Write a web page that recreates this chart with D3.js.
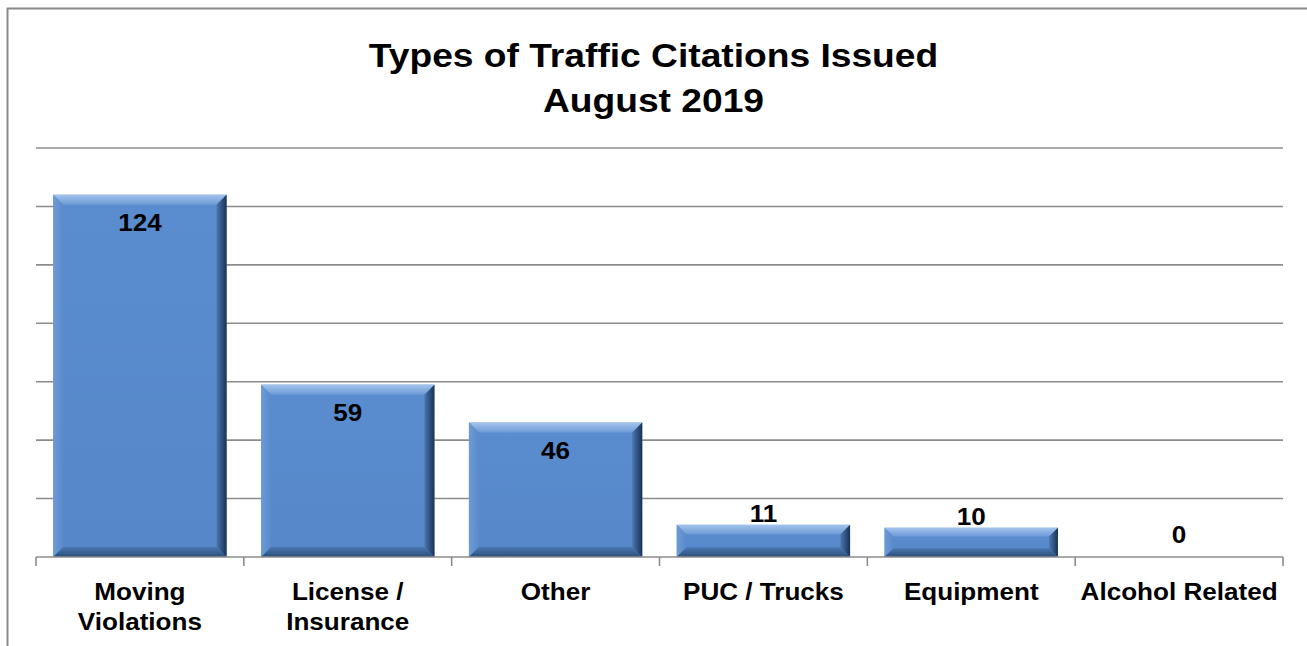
<!DOCTYPE html>
<html>
<head>
<meta charset="utf-8">
<script src="https://cdn.jsdelivr.net/npm/d3@7"></script>
<style>
  body { margin: 0; background: #fff; }
  text { font-family: Arial, "Liberation Sans", sans-serif; font-weight: bold; fill: #000; }
</style>
</head>
<body>
<div id="chart"></div>
<script>
var categories = ["Moving Violations", "License / Insurance", "Other", "PUC / Trucks", "Equipment", "Alcohol Related"];
var values = [124, 59, 46, 11, 10, 0];
var yTicks = [0, 20, 40, 60, 80, 100, 120, 140];
var titleLines = ["Types of Traffic Citations Issued", "August 2019"];

var W = 1307, H = 646;
var margin = {top: 148, right: 24, bottom: 89, left: 36};
var width = W - margin.left - margin.right,
    height = H - margin.top - margin.bottom;
var stretch = 1.11; // the source text is a little wider than Arial

function widen(sel, cx) {
    sel.attr("transform", function(d, i) {
        var c = typeof cx === "function" ? cx(d, i) : cx;
        return "translate(" + c + ",0) scale(" + stretch + ",1) translate(" + (-c) + ",0)";
    });
}

var svg = d3.select("#chart").append("svg")
    .attr("width", W).attr("height", H);

// outer chart frame (runs off the right and bottom edge)
svg.append("rect")
    .attr("x", 7.5).attr("y", 8.5)
    .attr("width", W + 10).attr("height", H + 10)
    .attr("fill", "none").attr("stroke", "#8a8a8a").attr("stroke-width", 2);

svg.selectAll(".title").data(titleLines).enter().append("text")
    .attr("class", "title")
    .attr("x", W / 2)
    .attr("y", function(d, i) { return 67 + i * 45; })
    .attr("text-anchor", "middle")
    .style("font-size", "33.5px")
    .text(function(d) { return d; })
    .call(widen, W / 2);

var g = svg.append("g")
    .attr("transform", "translate(" + margin.left + "," + margin.top + ")");

var x = d3.scaleBand()
    .domain(categories)
    .range([0, width])
    .paddingInner(0.166)
    .paddingOuter(0.083);

var y = d3.scaleLinear()
    .domain([0, 140])
    .range([height, 0]);

// gridlines
g.selectAll(".grid").data(yTicks.slice(1)).enter().append("line")
    .attr("x1", 0).attr("x2", width)
    .attr("y1", function(d) { return y(d); })
    .attr("y2", function(d) { return y(d); })
    .attr("stroke", "#8c8c8c").attr("stroke-width", 1.6);

// gradients for the bevel look
var defs = svg.append("defs");
function grad(id, x2, y2, stops) {
    var lg = defs.append("linearGradient").attr("id", id)
        .attr("x1", 0).attr("y1", 0).attr("x2", x2).attr("y2", y2);
    stops.forEach(function(s) {
        lg.append("stop").attr("offset", s[0]).attr("stop-color", s[1]);
    });
}
grad("gTop", 0, 1, [[0, "#a3c3ec"], [1, "#6d9ad6"]]);
grad("gLeft", 1, 0, [[0, "#6e9bd6"], [1, "#5a8acb"]]);
grad("gRight", 1, 0, [[0, "#4a76b0"], [1, "#1a3252"]]);
grad("gBottom", 0, 1, [[0, "#4a78b3"], [1, "#2c4d78"]]);
grad("gFace", 0, 1, [[0, "#5a8dcf"], [1, "#5587c9"]]);

var bars = g.selectAll(".bar").data(values.map(function(v, i) {
        return {cat: categories[i], v: v};
    }).filter(function(d) { return d.v > 0; }))
    .enter().append("g").attr("class", "bar");

bars.each(function(d) {
    var b = d3.select(this);
    var x0 = x(d.cat), x1 = x0 + x.bandwidth();
    var y0 = y(d.v), y1 = y(0);
    var bv = Math.min(10, (y1 - y0) * 0.3);
    function poly(pts, fill) {
        b.append("polygon")
            .attr("points", pts.map(function(p) { return p.join(","); }).join(" "))
            .attr("fill", fill);
    }
    b.append("rect")
        .attr("x", x0).attr("y", y0)
        .attr("width", x1 - x0).attr("height", y1 - y0)
        .attr("fill", "url(#gFace)");
    poly([[x0, y0], [x1, y0], [x1 - bv, y0 + bv], [x0 + bv, y0 + bv]], "url(#gTop)");
    poly([[x0, y0], [x0 + bv, y0 + bv], [x0 + bv, y1 - bv], [x0, y1]], "url(#gLeft)");
    poly([[x1, y0], [x1, y1], [x1 - bv, y1 - bv], [x1 - bv, y0 + bv]], "url(#gRight)");
    poly([[x0, y1], [x0 + bv, y1 - bv], [x1 - bv, y1 - bv], [x1, y1]], "url(#gBottom)");
});

// value labels
var cx = function(d, i) { return x(categories[i]) + x.bandwidth() / 2; };
g.selectAll(".val").data(values).enter().append("text")
    .attr("class", "val")
    .attr("x", cx)
    .attr("y", function(d) {
        var h = y(0) - y(d);
        return h > 50 ? y(d) + 28 : Math.min(y(d) - 11, y(0) - 22);
    })
    .attr("dy", "0.35em")
    .attr("text-anchor", "middle")
    .style("font-size", "23.5px")
    .text(function(d) { return d; })
    .call(widen, cx);

// baseline axis with boundary ticks
var xAxis = g.append("g").attr("transform", "translate(0," + height + ")");
xAxis.append("line")
    .attr("x1", 0).attr("x2", width)
    .attr("stroke", "#8c8c8c").attr("stroke-width", 1.6);
var bounds = d3.range(categories.length + 1).map(function(i) {
    return i === categories.length ? width : x(categories[i]) - x.step() * x.paddingInner() / 2;
});
xAxis.selectAll(".tick").data(bounds).enter().append("line")
    .attr("x1", function(d) { return d; }).attr("x2", function(d) { return d; })
    .attr("y1", 0).attr("y2", 9)
    .attr("stroke", "#8c8c8c").attr("stroke-width", 1.6);

// category labels, wrapped to the band width
var labels = xAxis.selectAll(".cat").data(categories).enter().append("text")
    .attr("class", "cat")
    .attr("x", function(d) { return x(d) + x.bandwidth() / 2; })
    .attr("y", 43)
    .attr("text-anchor", "middle")
    .style("font-size", "23.5px")
    .call(widen, function(d) { return x(d) + x.bandwidth() / 2; });

labels.each(function(d) {
    var t = d3.select(this);
    var words = d.split(" ");
    var lines = [], line = [];
    var probe = t.append("tspan");
    words.forEach(function(w) {
        line.push(w);
        probe.text(line.join(" "));
        if (probe.node().getComputedTextLength() * stretch > x.step() - 4 && line.length > 1) {
            line.pop();
            lines.push(line.join(" "));
            line = [w];
        }
    });
    lines.push(line.join(" "));
    probe.remove();
    lines.forEach(function(l, i) {
        t.append("tspan")
            .attr("x", t.attr("x"))
            .attr("dy", i === 0 ? 0 : 30)
            .text(l);
    });
});
</script>
</body>
</html>
